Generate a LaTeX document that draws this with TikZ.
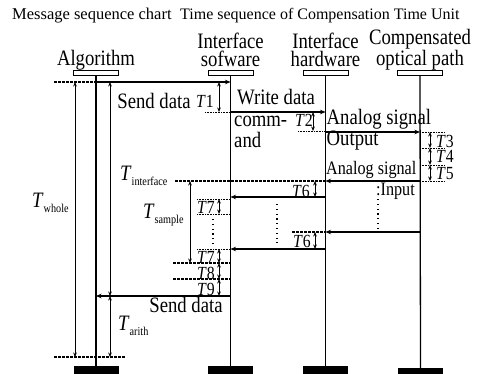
\documentclass[tikz,border=0pt]{standalone}
\usepackage{fontspec}
\setmainfont{Liberation Serif}[FakeStretch=0.85]
\newfontfamily\titlefont{Liberation Serif}
\usetikzlibrary{arrows.meta,positioning}
\newcommand{\Tsub}[1]{\textit{T}\raisebox{-0.5ex}{\fontsize{12}{12}\selectfont #1}}

\begin{document}
\begin{tikzpicture}[x=1pt,y=-1pt,
      >={Stealth[length=5.5pt,width=4.5pt]},
      head/.style={draw,line width=0.8pt,minimum width=45pt,
        minimum height=5.5pt,inner sep=0pt},
      foot/.style={fill=black,minimum width=45pt,minimum height=8pt,
        inner sep=0pt},
      headtxt/.style={font=\fontsize{22}{18}\selectfont,align=center,
        text depth=0pt,inner sep=0pt,anchor=south},
      lbl/.style={font=\fontsize{22}{18}\selectfont,inner sep=0pt,anchor=base},
      tlbl/.style={font=\fontsize{18.5}{18}\selectfont,inner sep=0pt,anchor=base},
      sml/.style={font=\fontsize{19}{18}\selectfont,inner sep=0pt,anchor=base},
      life/.style={line width=1.3pt},
      msg/.style={line width=1.1pt,->},
      ivl/.style={line width=0.9pt,<->,>={Stealth[length=4.5pt,width=3.6pt]}},
      dsh/.style={line width=1.3pt,dash pattern=on 2.5pt off 1.5pt},
      guide/.style={line width=0.5pt,dash pattern=on 0.8pt off 0.8pt},
      dots/.style={line width=1.2pt,dash pattern=on 1.2pt off 3.6pt}
    ]
    \useasboundingbox (0,0) rectangle (489,374);
    % titles
    \node[anchor=base west,inner sep=0pt,font=\titlefont\fontsize{16.5}{16}\selectfont]
      (ttlA) at (12,20) {Message sequence chart};
    \node[anchor=base west,inner sep=0pt,font=\titlefont\fontsize{16}{16}\selectfont]
      (ttlB) at (180,20) {Time sequence of Compensation Time Unit};
    % heads and feet of the four lifelines
    \node[head] (alg) at (96,73) {};
    \node[head] (sw) at (230.5,73) {};
    \node[head] (hw) at (325.5,73) {};
    \node[head] (op) at (420,73) {};
    \node[foot] (algF) at (96,370) {};
    \node[foot] (swF) at (230.5,370) {};
    \node[foot] (hwF) at (325.5,370) {};
    \node[foot] (opF) at (420.5,372) {};
    \node[headtxt] (algT) at (96,66) {Algorithm};
    \node[headtxt] (swT) at (230.5,67) {Interface\\sofware};
    \node[headtxt] (hwT) at (325.5,67) {Interface\\hardware};
    \node[headtxt] (opT) at (420,66) {Compensated\\optical path};
    \draw[life] (alg.south) -- (algF.north);
    \draw[life] (sw.south) -- (swF.north);
    \draw[life] (hw.south) -- (hwF.north);
    \draw[life] (op.south) -- (opF.north);
    % send data to the interface
    \draw[dsh] (54,82) -- (alg |- 0,82);
    \draw[msg] (alg |- 0,82) -- (sw |- 0,82);
    \node[lbl] (sendA) at (154,109) {Send data};
    \node[tlbl] (t1) at (205,108) {\textit{T}1};
    \draw[ivl] (219,82) -- (219,112);
    \draw[guide] (205,112) -- (sw |- 0,112);
    % write data command
    \draw[msg] (sw |- 0,112) -- (hw |- 0,112);
    \node[lbl] (wrt) at (276,105) {Write data};
    \node[lbl,anchor=base west] (cmd) at (234,127) {comm-};
    \node[lbl,anchor=base west] (cmdB) at (234,147) {and};
    \node[tlbl] (t2) at (304,127) {\textit{T}2};
    \draw[ivl] (313,112) -- (313,131);
    \draw[guide] (298,131) -- (hw |- 0,131);
    % analog signal out and back
    \draw[msg] (hw |- 0,132) -- (op |- 0,132);
    \node[lbl,anchor=base west] (anaA) at (326.5,125) {Analog signal};
    \node[lbl,anchor=base west] (outp) at (326.5,146) {Output};
    \foreach \yy in {132,148,165,181}
      \draw[guide] (op |- 0,\yy) -- (445,\yy);
    \draw[ivl] (430,132) -- (430,148);
    \draw[ivl] (430,148) -- (430,165);
    \draw[ivl] (430,165) -- (430,181);
    \node[tlbl,anchor=base west] (t3) at (436,147) {\textit{T}3};
    \node[tlbl,anchor=base west] (t4) at (436,162) {\textit{T}4};
    \node[tlbl,anchor=base west] (t5) at (436,179) {\textit{T}5};
    \draw[msg] (op |- 0,181) -- (hw |- 0,181);
    \node[sml,anchor=base west] (anaB) at (326,174) {Analog signal};
    \node[sml,anchor=base west] (inp) at (376,195) {:Input};
    \draw[dots] (378,199) -- (378,228);
    % interface time and first sample
    \draw[dsh] (175,181) -- (hw |- 0,181);
    \node[lbl,anchor=base west] (tint) at (120,180) {\Tsub{interface}};
    \draw[ivl] (315,181) -- (315,197);
    \node[tlbl] (t6a) at (301,197) {\textit{T}6};
    \draw[msg] (hw |- 0,197) -- (sw |- 0,197);
    \draw[guide] (197,199) -- (sw |- 0,199);
    \draw[guide] (197,214) -- (sw |- 0,214);
    \draw[ivl] (219,199) -- (219,214);
    \node[tlbl] (t7a) at (206,213) {\textit{T}7};
    \draw[dots] (213,219) -- (213,246);
    \draw[dots] (277,204) -- (277,243);
    % last sample
    \draw[msg] (op |- 0,232) -- (hw |- 0,232);
    \draw[dsh] (292,232) -- (hw |- 0,232);
    \draw[ivl] (315,232) -- (315,249);
    \node[tlbl] (t6b) at (302,247) {\textit{T}6};
    \draw[msg] (hw |- 0,249) -- (sw |- 0,249);
    \draw[guide] (197,249) -- (sw |- 0,249);
    \draw[dsh] (173,263) -- (sw |- 0,263);
    \draw[dsh] (173,279) -- (sw |- 0,279);
    \draw[ivl] (219,249) -- (219,263);
    \draw[ivl] (219,263) -- (219,279);
    \draw[ivl] (219,279) -- (219,296);
    \node[tlbl] (t7b) at (206,263) {\textit{T}7};
    \node[tlbl] (t8) at (206,279) {\textit{T}8};
    \node[tlbl] (t9) at (206,295) {\textit{T}9};
    \draw[ivl] (190,181) -- (190,263);
    \node[lbl,anchor=base west] (tsmp) at (143,218) {\Tsub{sample}};
    % send data back to the algorithm
    \draw[msg] (sw |- 0,296) -- (alg |- 0,296);
    \node[lbl] (sendB) at (186,312) {Send data};
    \draw[ivl] (110,82) -- (110,296);
    \draw[ivl] (110,296) -- (110,357);
    \node[lbl,anchor=base west] (tari) at (118,330) {\Tsub{arith}};
    \draw[ivl] (75,82) -- (75,357);
    \draw[dsh] (54,357) -- (126,357);
    \node[lbl,anchor=base west] (twh) at (32,207) {\Tsub{whole}};
  \end{tikzpicture}
\end{document}
